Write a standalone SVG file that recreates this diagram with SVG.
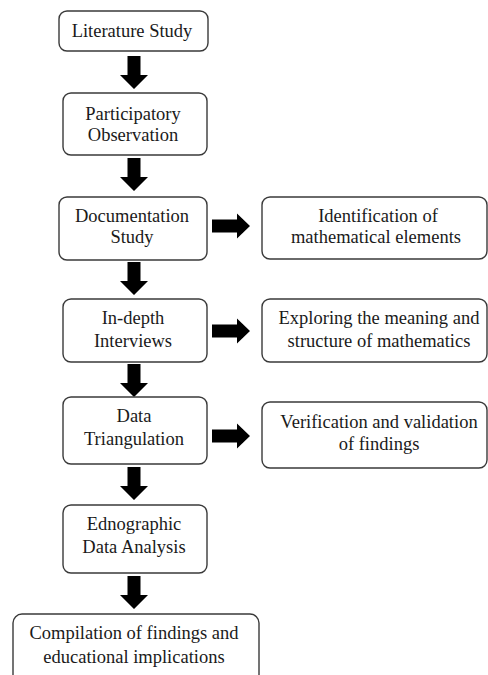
<svg xmlns="http://www.w3.org/2000/svg" xmlns:xlink="http://www.w3.org/1999/xlink" width="488" height="675" viewBox="0 0 488 675" font-family="'Liberation Serif', 'Times New Roman', Times, serif">
<style>
.box{fill:#fff;stroke:#3a3a3a;stroke-width:1.4}
text{font-family:'Liberation Serif','Times New Roman',Times,serif;font-size:18.5px;fill:#1a1a1a;text-anchor:middle}
.arr{fill:#000}
</style>
<defs>
<path id="down" d="M-6.5,0 H6.5 V19 H14 L0,33 L-14,19 H-6.5 Z"/>
<path id="right" d="M0,-6.5 H25 V-12.5 L38,0 L25,12.5 V6.5 H0 Z"/>
</defs>
<rect width="488" height="675" fill="#fff"/>
<g id="connectors" class="arr">
<use xlink:href="#down" x="134" y="56"/>
<use xlink:href="#down" x="134" y="158"/>
<use xlink:href="#down" x="134" y="262"/>
<use xlink:href="#down" x="134" y="364"/>
<use xlink:href="#down" x="134" y="467"/>
<use xlink:href="#down" x="134" y="576"/>
<use xlink:href="#right" x="212" y="226"/>
<use xlink:href="#right" x="212" y="331"/>
<use xlink:href="#right" x="212" y="436"/>
</g>
<g id="literature">
<rect class="box" x="59" y="11" width="149" height="40" rx="8"/>
<text x="132" y="37">Literature Study</text>
</g>
<g id="participatory">
<rect class="box" x="63" y="93" width="144" height="62" rx="8"/>
<text x="133" y="120">Participatory</text>
<text x="133" y="141">Observation</text>
</g>
<g id="documentation">
<rect class="box" x="59" y="197" width="148" height="63" rx="8"/>
<text x="132" y="222">Documentation</text>
<text x="132" y="243">Study</text>
</g>
<g id="identification">
<rect class="box" x="262" y="197" width="225" height="62" rx="8"/>
<text x="378" y="222">Identification of</text>
<text x="376" y="243">mathematical elements</text>
</g>
<g id="indepth">
<rect class="box" x="63" y="299" width="144" height="63" rx="8"/>
<text x="133" y="324">In-depth</text>
<text x="133" y="347">Interviews</text>
</g>
<g id="exploring">
<rect class="box" x="262" y="299" width="225" height="63" rx="8"/>
<text x="379" y="324">Exploring the meaning and</text>
<text x="379" y="347">structure of mathematics</text>
</g>
<g id="triangulation">
<rect class="box" x="63" y="397" width="144" height="67" rx="8"/>
<text x="134" y="422">Data</text>
<text x="134" y="445">Triangulation</text>
</g>
<g id="verification">
<rect class="box" x="262" y="402" width="225" height="66" rx="8"/>
<text x="379" y="428">Verification and validation</text>
<text x="379" y="450">of findings</text>
</g>
<g id="ednographic">
<rect class="box" x="63" y="505" width="144" height="68" rx="8"/>
<text x="134" y="530">Ednographic</text>
<text x="134" y="553">Data Analysis</text>
</g>
<g id="compilation">
<rect class="box" x="13" y="614" width="246" height="75" rx="9"/>
<text x="134" y="639">Compilation of findings and</text>
<text x="134" y="663">educational implications</text>
</g>
</svg>
